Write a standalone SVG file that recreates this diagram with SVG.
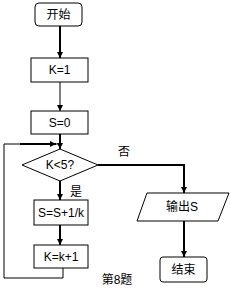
<svg xmlns="http://www.w3.org/2000/svg" width="231" height="288" viewBox="0 0 231 288">
<style>
.box{fill:#fff;stroke:#000;stroke-width:1}
.t{font-family:"Liberation Sans","Noto Sans CJK SC",sans-serif;font-size:12px;fill:#000;text-anchor:middle;dominant-baseline:central}
.c{fill:none;stroke:#000;stroke-width:2}
.c1{fill:none;stroke:#000;stroke-width:1}
</style>
<defs>
<marker id="ah" viewBox="0 0 6 6" refX="6" refY="3" markerWidth="6" markerHeight="6" markerUnits="userSpaceOnUse" orient="auto">
<path d="M0,0 L6,3 L0,6 z" fill="#000"/>
</marker>
</defs>
<rect width="231" height="288" fill="#fff"/>
<g id="connectors">
<line class="c" x1="60" y1="26" x2="60" y2="58" marker-end="url(#ah)"/>
<line class="c1" x1="60" y1="82" x2="60" y2="111" marker-end="url(#ah)"/>
<line class="c" x1="60" y1="134" x2="60" y2="149" marker-end="url(#ah)"/>
<line class="c" x1="60" y1="181" x2="60" y2="200" marker-end="url(#ah)"/>
<line class="c" x1="60" y1="225" x2="60" y2="245" marker-end="url(#ah)"/>
<polyline class="c1" points="63,268 63,278 4,278 4,144 60,144"/>
<line class="c" x1="20" y1="144" x2="56" y2="144" marker-end="url(#ah)"/>
<polyline class="c" points="98,165 184,165 184,193" marker-end="url(#ah)"/>
<line class="c" x1="184" y1="221" x2="184" y2="257" marker-end="url(#ah)"/>
</g>
<g id="start">
<rect class="box" x="35" y="3" width="47" height="23" rx="4"/>
<text class="t" x="58.5" y="15">开始</text>
</g>
<g id="k1">
<rect class="box" x="31" y="58" width="57" height="24"/>
<text class="t" x="59.5" y="70">K=1</text>
</g>
<g id="s0">
<rect class="box" x="31" y="111" width="57" height="23"/>
<text class="t" x="59.5" y="122.5">S=0</text>
</g>
<g id="cond">
<polygon class="box" points="60,149 98,165 60,181 22,165"/>
<text class="t" x="60" y="165">K&lt;5?</text>
</g>
<text class="t" x="76" y="192">是</text>
<text class="t" x="124" y="152">否</text>
<g id="sum">
<rect class="box" x="34" y="200" width="54" height="25"/>
<text class="t" x="61" y="212.5">S=S+1/k</text>
</g>
<g id="inc">
<rect class="box" x="34" y="245" width="54" height="23"/>
<text class="t" x="61" y="256.5">K=k+1</text>
</g>
<g id="out">
<polygon class="box" points="147,193 229,193 218,221 137,221"/>
<text class="t" x="182" y="207">输出S</text>
</g>
<g id="end">
<rect class="box" x="160" y="257" width="47" height="25" rx="3"/>
<text class="t" x="183.5" y="269.5">结束</text>
</g>
<text class="t" x="117" y="280">第8题</text>
</svg>
